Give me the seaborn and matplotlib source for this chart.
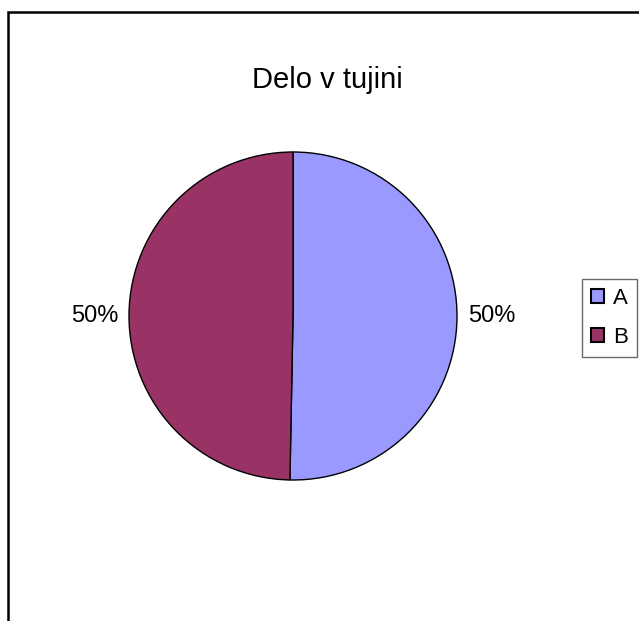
import matplotlib
matplotlib.use("Agg")
from matplotlib import pyplot as plt
from matplotlib.patches import Rectangle
import seaborn as sns

# data (A slightly over half)
categories = ["A", "B"]
values = [50.3, 49.7]
colors = ["#9999FF", "#993366"]
title = "Delo v tujini"

sns.set_theme(style="white")
plt.rcParams["font.family"] = ["Liberation Sans", "DejaVu Sans"]

W, H = 639, 621
fig = plt.figure(figsize=(W / 100, H / 100), dpi=100)

# pie centre (293, 316) px, radius 164 px
cx, cy, r = 293, 316, 164
ax = fig.add_axes([(cx - r) / W, (H - cy - r) / H, 2 * r / W, 2 * r / H])

wedges, _, autotexts = ax.pie(
    values,
    colors=colors,
    startangle=90,
    counterclock=False,
    autopct="%.0f%%",
    pctdistance=1.21,
    wedgeprops={"edgecolor": "black", "linewidth": 1.0},
    textprops={"fontsize": 17, "color": "black"},
)
# both percentage labels sit level with the pie centre
for t in autotexts:
    t.set_y(0)
ax.set_xlim(-1, 1)
ax.set_ylim(-1, 1)
ax.set_aspect("equal")

fig.text(327 / W, 1 - 80 / H, title, ha="center", va="center",
         fontsize=21, color="black")

leg = fig.legend(
    wedges, categories,
    loc="upper left",
    bbox_to_anchor=(582 / W, 1 - 279 / H),
    fontsize=16,
    frameon=True,
    fancybox=False,
    handlelength=0.6,
    handleheight=0.6,
    handletextpad=0.4,
    labelspacing=0.82,
    borderpad=0.4,
    borderaxespad=0,
)
leg.get_frame().set_edgecolor("#444444")
leg.get_frame().set_linewidth(1.0)
for h in leg.legend_handles:
    h.set_edgecolor("black")
    h.set_linewidth(1.5)
for t in leg.get_texts():
    t.set_color("black")

# chart border (only left and top edges fall inside the crop)
fig.add_artist(Rectangle((8 / W, -0.2), 1.2, 1 - 12 / H + 0.2,
                         transform=fig.transFigure, fill=False,
                         edgecolor="black", linewidth=1.8))

fig.savefig("out.png", dpi=100)
